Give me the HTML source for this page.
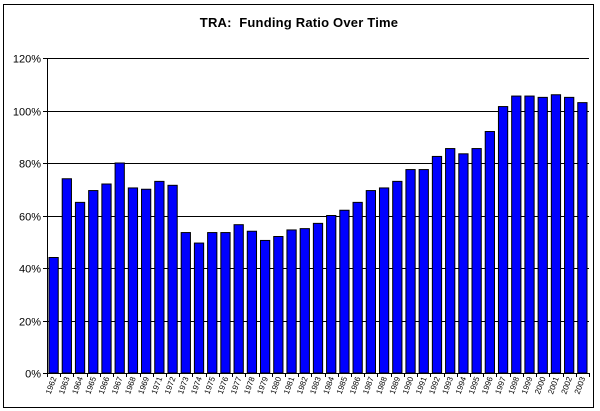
<!DOCTYPE html>
<html><head><meta charset="utf-8"><style>
html,body{margin:0;padding:0;background:#fff;}
svg{display:block;font-family:"Liberation Sans",Arial,sans-serif;}
</style></head><body>
<svg id="c" width="600" height="411" xmlns="http://www.w3.org/2000/svg">
<rect x="3.5" y="4.5" width="590" height="403" fill="#fff" stroke="#000" stroke-width="1"/>
<text x="299" y="27" text-anchor="middle" font-size="13" font-weight="bold" letter-spacing="0.2">TRA:&#160; Funding Ratio Over Time</text>
<g id="g"></g>
</svg>
<script>
var g=document.getElementById('g'),s='';
var x0=47,x1=589,y0=373,yt=58,ph=y0-yt;
for(var i=0;i<=6;i++){var y=Math.round(y0-ph*i/6)+0.5;
 s+='<line x1="'+x0+'" y1="'+y+'" x2="'+x1+'" y2="'+y+'" stroke="#000"/>';
 s+='<line x1="'+(x0-4)+'" y1="'+y+'" x2="'+x0+'" y2="'+y+'" stroke="#000"/>';
 s+='<text x="'+(x0-6)+'" y="'+(y+4)+'" text-anchor="end" font-size="11">'+(i*20)+'%</text>';}
var yrs=[1962,1963,1964,1965,1966,1967,1968,1969];for(var k=1971;k<=2003;k++)yrs.push(k);
var v=[44,74,65,69.5,72,80,70.5,70,73,71.5,53.5,49.5,53.5,53.5,56.5,54,50.5,52,54.5,55,57,60,62,65,69.5,70.5,73,77.5,77.5,82.5,85.5,83.5,85.5,92,101.5,105.5,105.5,105,106,105,103];
var n=v.length,w=(x1-x0)/n;
for(var j=0;j<n;j++){var bx=x0+j*w+w*0.15,bw=w*0.7,h=ph*v[j]/120;
 s+='<rect x="'+bx+'" y="'+(y0-h)+'" width="'+bw+'" height="'+h+'" fill="#0000ff" stroke="#000" stroke-width="1"/>';
 var tx=Math.round(x0+(j+1)*w)+0.5;
 s+='<line x1="'+tx+'" y1="'+y0+'" x2="'+tx+'" y2="'+(y0+4)+'" stroke="#000"/>';
 var cx=x0+(j+0.5)*w+3;
 s+='<text transform="translate('+cx+',378) rotate(-70)" text-anchor="end" font-size="8">'+yrs[j]+'</text>';}
s+='<line x1="'+(x0+0.5)+'" y1="'+yt+'" x2="'+(x0+0.5)+'" y2="'+(y0+4)+'" stroke="#000"/>';
s+='<line x1="'+x0+'" y1="'+(y0+0.5)+'" x2="'+x1+'" y2="'+(y0+0.5)+'" stroke="#000"/>';
g.innerHTML=s;
</script>
</body></html>
